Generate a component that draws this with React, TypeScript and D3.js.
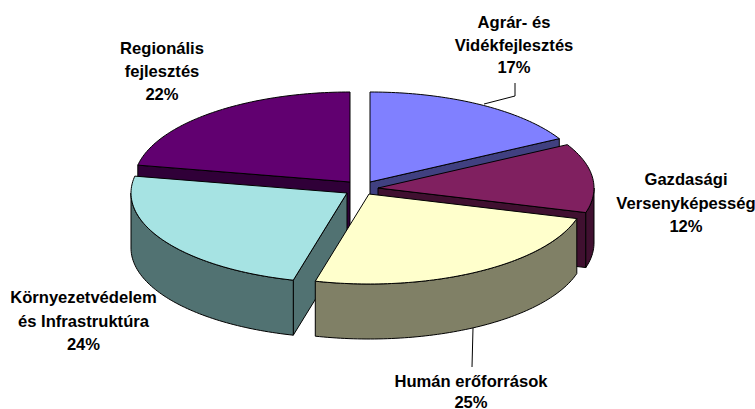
import React from "react";
import * as d3 from "d3";

const categories = ["Agrár- és|Vidékfejlesztés", "Gazdasági|Versenyképesség", "Humán erőforrások", "Környezetvédelem|és Infrastruktúra", "Regionális|fejlesztés"];
const values = [17, 12.4, 24.6, 24, 22];
const topColors = ["#8080FF", "#802060", "#FFFFCC", "#A6E3E3", "#610070"];
const sideColors = ["#404080", "#401030", "#808066", "#517272", "#300038"];

const W = 755, H = 409;
const rx = 216, ry = 90, depth = 55;
const apexes: [number, number][] = [[370, 182], [378, 188], [369, 194], [347, 193], [350, 182]];
const labelAnchors: [number, number][] = [[514, 28], [686, 185], [471, 387], [83.5, 303], [162, 54]];
const labelSpacing = [22.5, 23.5, 21, 23.5, 23];
const drawOrder = [4, 0, 1, 3, 2];
const leaders: [number, number][][] = [[[515, 83], [515, 96], [484, 104]], [[473, 328], [472, 367]]];

const arcs = d3.pie<number>().sort(null).startAngle(0).endAngle(2 * Math.PI)(values);
const line = d3.line();

function rim(i: number, a0: number, a1: number, dy = 0): [number, number][] {
  const [cx, cy] = apexes[i];
  const n = Math.max(2, Math.ceil(Math.abs(a1 - a0) / 0.02));
  return d3.range(n + 1).map((k) => {
    const a = a0 + ((a1 - a0) * k) / n;
    return [cx + rx * Math.sin(a), cy - ry * Math.cos(a) + dy] as [number, number];
  });
}

function Slice({ i }: { i: number }) {
  const { startAngle: a0, endAngle: a1 } = arcs[i];
  const [cx, cy] = apexes[i];
  const stroke = { stroke: "#000", strokeWidth: 1, strokeLinejoin: "round" as const };
  const side = sideColors[i];
  const faces: React.ReactNode[] = [];
  const radial = (a: number, key: string) => {
    const p = rim(i, a, a)[0];
    faces.push(
      <path key={key} d={line([[cx, cy], p, [p[0], p[1] + depth], [cx, cy + depth]])! + "Z"} fill={side} {...stroke} />
    );
  };
  if (Math.sin(a0) < -1e-6) radial(a0, "s");
  if (Math.sin(a1) > 1e-6) radial(a1, "e");
  const w0 = Math.max(a0, Math.PI / 2), w1 = Math.min(a1, (3 * Math.PI) / 2);
  if (w1 > w0) {
    const pts = [...rim(i, w0, w1), ...rim(i, w0, w1, depth).reverse()];
    faces.push(<path key="w" d={line(pts)! + "Z"} fill={side} {...stroke} />);
  }
  const top: [number, number][] = [[cx, cy], ...rim(i, a0, a1)];
  return (
    <g>
      {faces}
      <path d={line(top)! + "Z"} fill={topColors[i]} {...stroke} />
    </g>
  );
}

export default function App() {
  return (
    <svg width={W} height={H} viewBox={`0 0 ${W} ${H}`} style={{ position: "absolute", left: 0, top: 0, background: "#fff" }}>
      {drawOrder.map((i) => <Slice key={i} i={i} />)}
      {leaders.map((l, k) => <path key={k} d={line(l)!} fill="none" stroke="#000" strokeWidth={1} />)}
      {categories.map((c, i) => {
        const lines = [...c.split("|"), `${Math.round(values[i])}%`];
        return (
          <text key={c} textAnchor="middle" fontFamily="'Liberation Sans', Arial, sans-serif" fontWeight="bold" fontSize={16.6} fill="#000">
            {lines.map((t, k) => (
              <tspan key={k} x={labelAnchors[i][0]} y={labelAnchors[i][1] + k * labelSpacing[i]}>{t}</tspan>
            ))}
          </text>
        );
      })}
    </svg>
  );
}
